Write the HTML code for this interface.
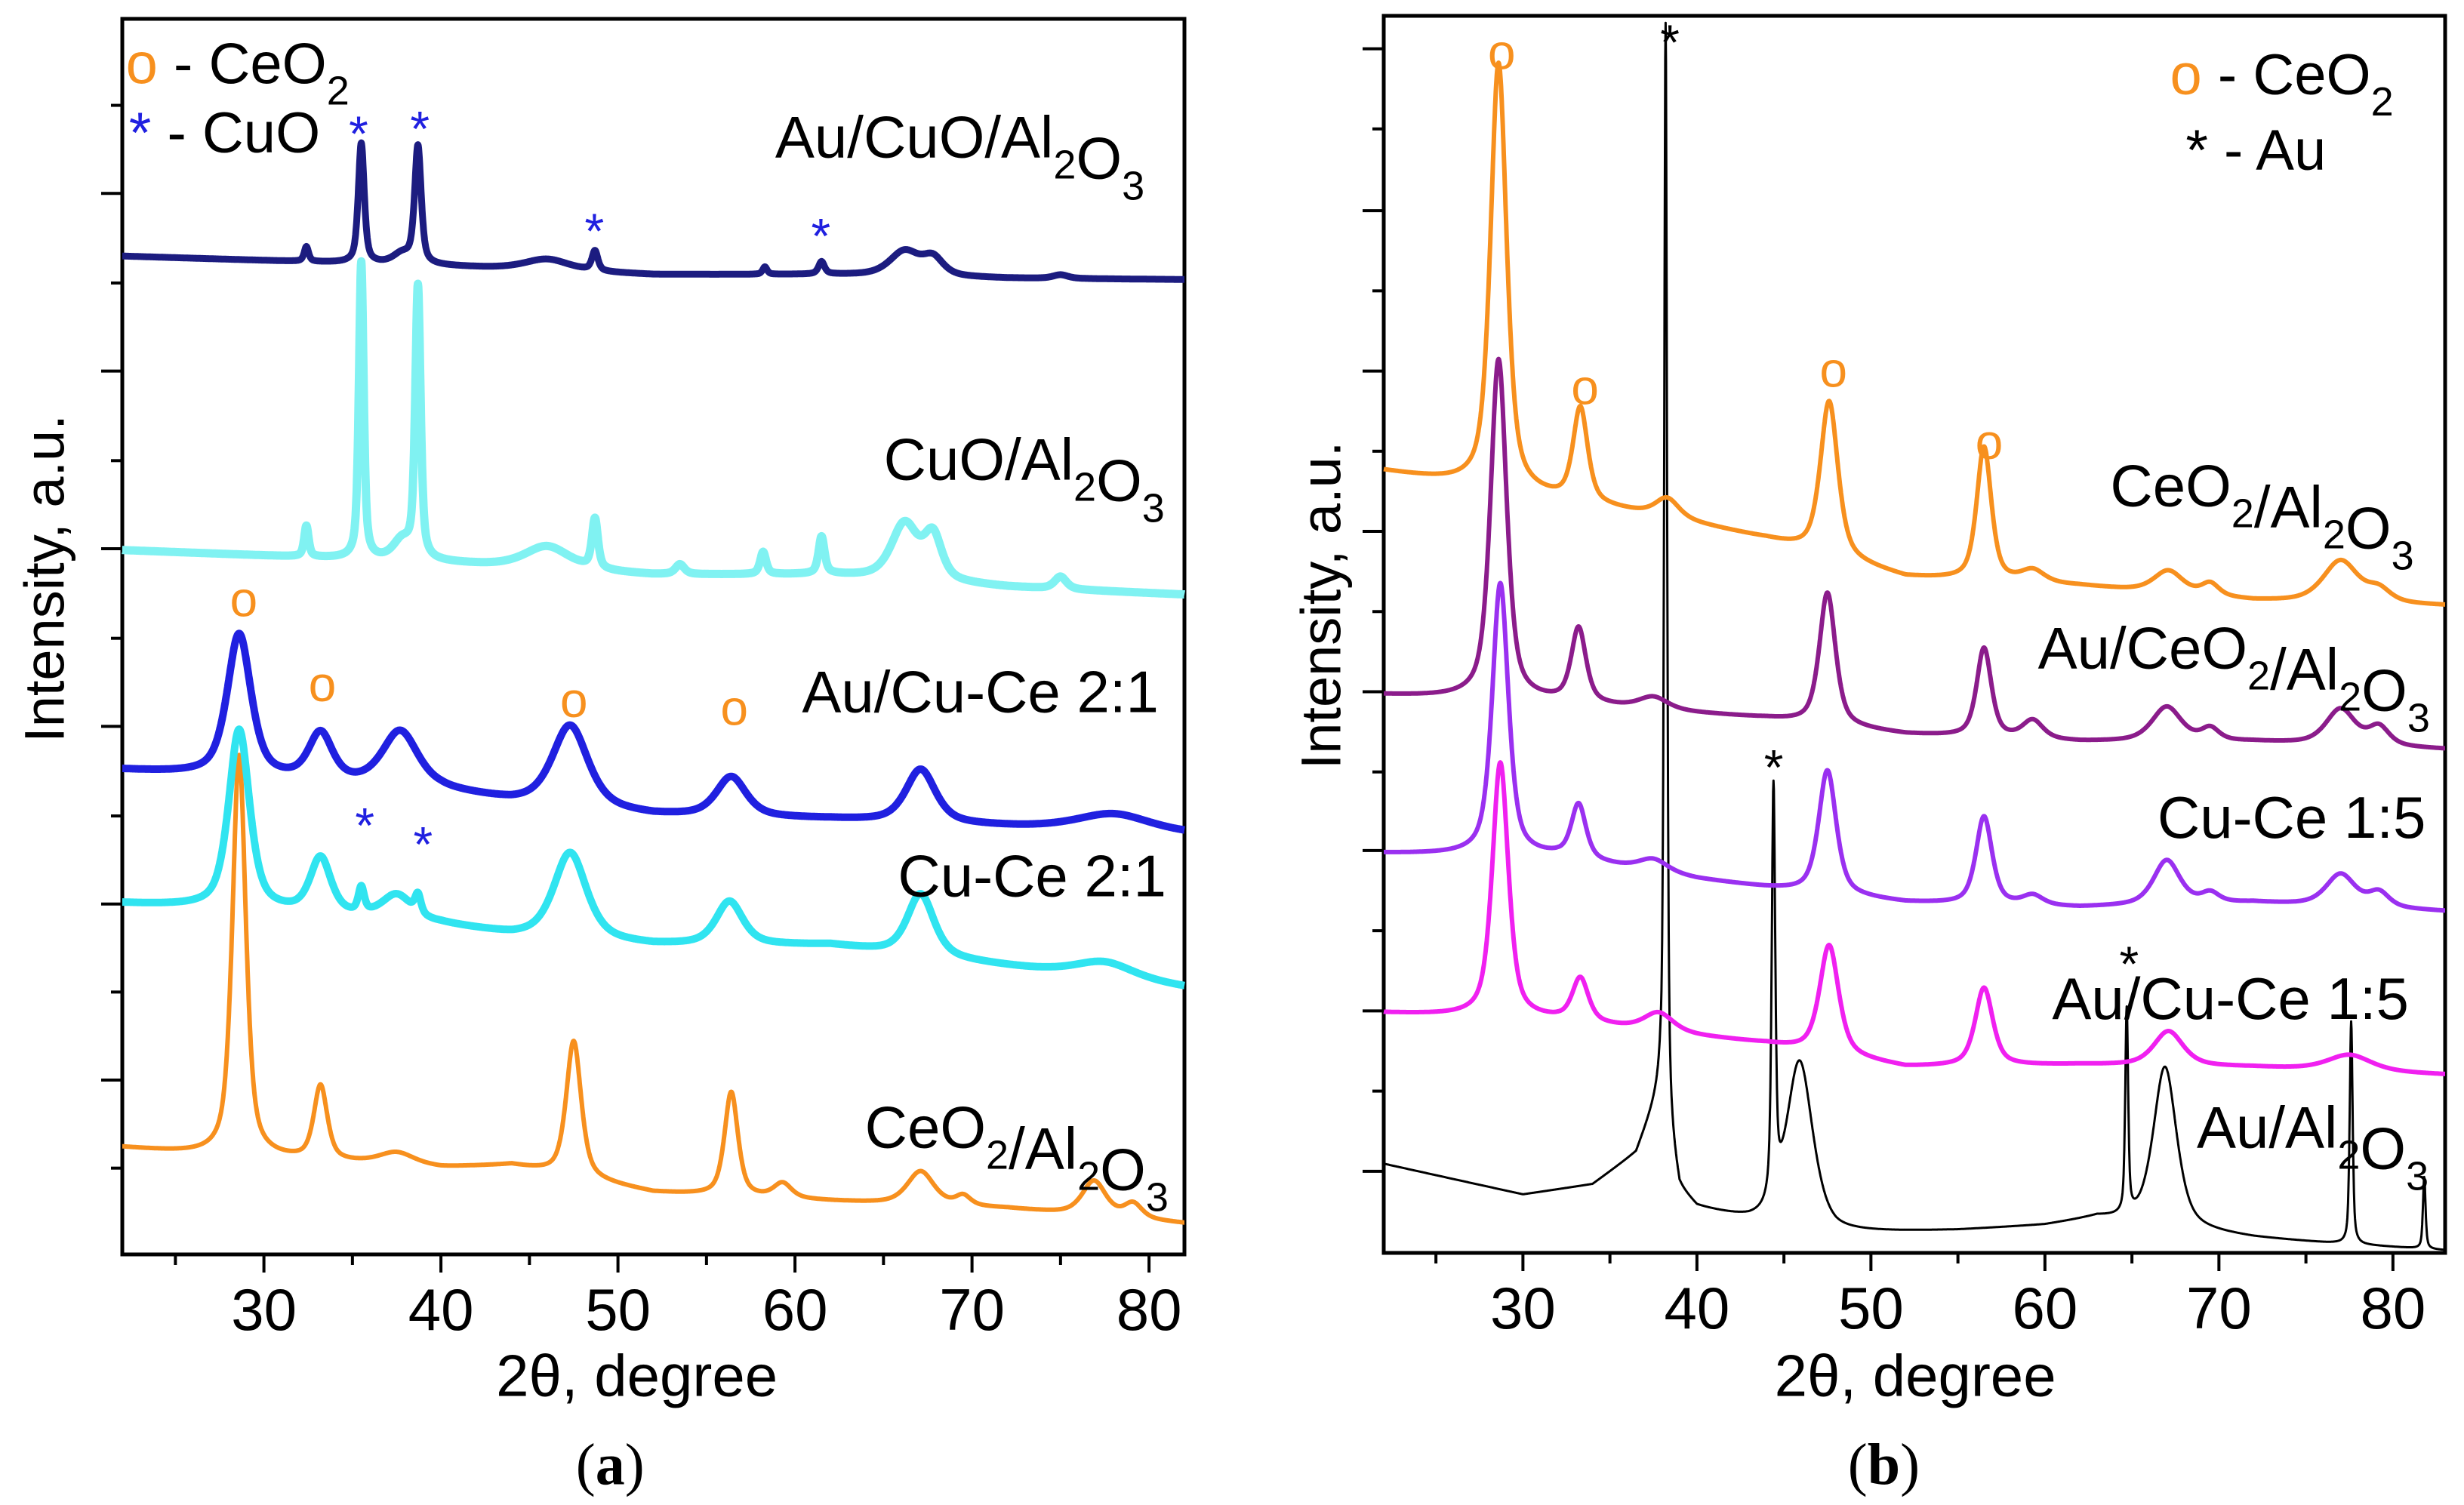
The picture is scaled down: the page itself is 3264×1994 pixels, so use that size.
<!DOCTYPE html>
<html><head><meta charset="utf-8"><style>
html,body{margin:0;padding:0;background:#fff}
svg{display:block}
text{font-family:"Liberation Sans",Arial,sans-serif}
</style></head><body>
<svg id="fig" width="3264" height="1994" viewBox="0 0 3264 1994" xmlns="http://www.w3.org/2000/svg"></svg>
<script>
// ---------- DATA ----------
const aNames = ["Au/CuO/Al2O3","CuO/Al2O3","Au/Cu-Ce 2:1","Cu-Ce 2:1","CeO2/Al2O3 (a)"];
const aBase_AuCuO = [[22,80.8],[40,80],[52,79.3],[62,79.3],[72,79],[82,78.9]];
const aPeaks_AuCuO = [[32.4,1.2,0.15],[35.5,9.7,0.2],[38.7,9.5,0.22],[37.8,0.8,0.6],[46,0.9,1.5],[48.7,1.6,0.2],[58.3,0.6,0.15],[61.5,1,0.2],[66.2,2,1],[67.8,1.4,0.7],[75,0.3,0.5]];
const aBase_CuO = [[22,57],[40,56],[52,55],[62,55],[72,54],[82,53.4]];
const aPeaks_CuO = [[32.4,2.5,0.15],[35.5,24,0.16],[38.7,22,0.18],[37.8,1.5,0.6],[46,1.8,1.5],[48.7,4,0.2],[53.5,0.8,0.3],[58.2,1.8,0.2],[61.5,3,0.2],[66.2,4.5,0.9],[67.8,3.5,0.6],[75,1,0.4]];
const aBase_AuCuCe = [[22,39.2],[30,38.5],[40,37.5],[44,36.6],[52,35.5],[62,35.2],[72,34.6],[82,34]];
const aPeaks_AuCuCe = [[28.6,11.5,0.8],[33.2,3.8,0.8],[37.7,4.5,1.2],[47.3,6.6,1.2],[56.4,3.2,1.0],[67.1,4.3,1.0],[78,1.4,2.5]];
const aBase_CuCe = [[22,28.4],[30,27.8],[40,26.7],[44,25.8],[52,25],[62,25],[72,23.3],[82,21.6]];
const aPeaks_CuCe = [[28.6,14.5,0.7],[33.2,4.5,0.7],[35.5,2,0.2],[37.5,2,1],[38.7,1.5,0.2],[47.3,7,1.1],[56.3,3.5,0.9],[67.1,5,0.9],[77.5,1.3,2]];
const aBase_Ce = [[22,8.65],[27,8],[40,7],[44,7.2],[52,5],[62,4.3],[72,3.7],[82,2.5]];
const aPeaks_Ce = [[28.6,32.5,0.45],[33.2,6,0.45],[37.5,1,1.2],[47.5,11,0.5],[56.4,8.4,0.45],[59.3,1.2,0.6],[67.1,2.7,0.9],[69.5,0.8,0.5],[76.9,2.8,0.8],[79.1,1.2,0.6]];

const bBase_Ce = [[22,63.2],[33,60.6],[38,59.5],[44,57.7],[52,54.6],[62,53.9],[72,52.7],[83,52.3]];
const bPeaks_Ce = [[28.6,34.5,0.55],[33.3,7.6,0.5],[38.3,1.5,0.8],[47.6,12.5,0.6],[56.5,10.8,0.5],[59.3,1,0.8],[67.1,1.8,1],[69.5,1,0.6],[77,3.4,1.2],[79.2,1,0.8]];
const bBase_AuCe = [[22,45.1],[32,44.5],[38,43.8],[44,43.2],[52,41.9],[62,41.3],[72,41.3],[83,40.7]];
const bPeaks_AuCe = [[28.6,27.5,0.55],[33.2,6,0.5],[37.5,1,1],[47.5,10.7,0.55],[56.5,7.2,0.5],[59.3,1.5,0.7],[67,2.8,1],[69.5,1,0.6],[77,2.9,1],[79.2,1.5,0.7]];
const bBase_CuCe = [[22,32.3],[32,32],[40,30.2],[44,29.5],[52,28.3],[62,27.9],[72,28.3],[83,27.6]];
const bPeaks_CuCe = [[28.7,22,0.55],[33.2,4.4,0.5],[37.5,1,1],[47.5,10,0.6],[56.5,7.1,0.55],[59.3,0.8,0.7],[67,3.6,0.9],[69.5,0.8,0.6],[77,2.6,1],[79.2,1.2,0.7]];
const bBase_AuCuCe = [[22,19.4],[32,18.8],[40,17.5],[44,16.9],[52,15],[62,15.2],[72,15],[83,14.4]];
const bPeaks_AuCuCe = [[28.7,20.6,0.55],[33.3,3.5,0.55],[37.8,1.5,1],[47.6,8.8,0.65],[56.5,6.3,0.6],[67.1,2.8,1],[77.5,1.3,1.5]];
const bBase_Au = [[22,7.2],[30,4.7],[34,5.5],[36.5,8],[37.9,13],[39,5],[40,3.6],[43,2.5],[48,1.5],[55,1.8],[60,2.2],[63,2.8],[68,1.8],[72,1.2],[76,0.8],[83,0.2]];
const bPeaks_Au = [[38.2,88.5,0.1],[44.4,33,0.12],[45.9,13.5,0.9],[64.7,16.5,0.1],[66.9,13,0.8],[77.6,18,0.1],[81.8,5.8,0.09]];

const xTicks = [30,40,50,60,70,80];

// ---------- RENDER ----------
const NS="http://www.w3.org/2000/svg";
const svg=document.getElementById('fig');
const S=2.083;
function el(tag,attrs,parent){const e=document.createElementNS(NS,tag);for(const k in attrs)e.setAttribute(k,attrs[k]);(parent||svg).appendChild(e);return e;}

function makeAxes(L,R,T,B,xmin,xmax){
  return {L,R,T,B,xmin,xmax,
    x:v=>L+(v-xmin)/(xmax-xmin)*(R-L),
    y:v=>B-v/100*(B-T)};
}
const A=makeAxes(162,1569,25,1662,22,82);
const Bx=makeAxes(1833,3239,21,1660,22,83);

function interp(base,x){
  if(x<=base[0][0])return base[0][1];
  for(let i=1;i<base.length;i++){if(x<=base[i][0]){const[a,b]=base[i-1],[c,d]=base[i];return b+(x-a)/(c-a)*(d-b);}}
  return base[base.length-1][1];
}
function curve(ax,base,peaks,color,w,name){
  let d="";
  for(let x=ax.xmin;x<=ax.xmax+1e-9;x+=0.02){
    let v=interp(base,x);
    for(const p of peaks){const t=(x-p[0])/p[2];v+=p[1]*(0.6/(1+t*t)+0.4*Math.exp(-0.693*t*t));}
    d+=(d?"L":"M")+ax.x(x).toFixed(1)+","+ax.y(v).toFixed(1);
  }
  const p=el('path',{d,fill:'none',stroke:color,'stroke-width':w,'stroke-linejoin':'round'});
  
  
}
function frame(ax,yMaj,yMin,name){
  const g=el('g',{});
  
  
  el('rect',{x:ax.L,y:ax.T,width:ax.R-ax.L,height:ax.B-ax.T,fill:'none',stroke:'#000','stroke-width':5},g);
  for(const y of yMaj) el('line',{x1:ax.L-28,x2:ax.L,y1:y,y2:y,stroke:'#000','stroke-width':4},g);
  for(const y of yMin) el('line',{x1:ax.L-15,x2:ax.L,y1:y,y2:y,stroke:'#000','stroke-width':4},g);
  for(let v=25;v<=ax.xmax;v+=5){const X=ax.x(v);const maj=(v%10===0);
    el('line',{x1:X,x2:X,y1:ax.B,y2:ax.B+(maj?24:14),stroke:'#000','stroke-width':4},g);}
  for(const t of xTicks){const tx=el('text',{x:ax.x(t),y:ax.B+100,'font-size':78,'text-anchor':'middle'},g);tx.textContent=t;
    
    }
}
function txt(x,y,html,size,color,name,extra){
  const t=el('text',Object.assign({x:x*S,y:y*S,'font-size':size,fill:color||'#000'},extra||{}));
  t.innerHTML=html;
  
  
  return t;
}
const sub=(c)=>`<tspan dy="28" font-size="54">${c}</tspan><tspan dy="-28"></tspan>`;

// panel a
const aMaj=[123,236,349,462,575,687].map(v=>v*S), aMin=[67,180,293,406,519,631,743].map(v=>v*S);
frame(A,aMaj,aMin,'panel-a-axes');
curve(A,aBase_Ce,aPeaks_Ce,'#f7901e',6,'series-a-ceo2-al2o3');
curve(A,aBase_CuCe,aPeaks_CuCe,'#30e4f0',10,'series-a-cu-ce-2-1');
curve(A,aBase_AuCuCe,aPeaks_AuCuCe,'#2020e0',10,'series-a-au-cu-ce-2-1');
curve(A,aBase_CuO,aPeaks_CuO,'#80f2f2',11,'series-a-cuo-al2o3');
curve(A,aBase_AuCuO,aPeaks_AuCuO,'#1c1c80',9,'series-a-au-cuo-al2o3');

// panel b
const bMaj=[31,134,236,338,440,541,643,745].map(v=>v*S), bMin=[82,185,287,389,491,592,694].map(v=>v*S);
frame(Bx,bMaj,bMin,'panel-b-axes');
curve(Bx,bBase_Au,bPeaks_Au,'#000',3,'series-b-au-al2o3');
curve(Bx,bBase_AuCuCe,bPeaks_AuCuCe,'#f020f0',6,'series-b-au-cu-ce-1-5');
curve(Bx,bBase_CuCe,bPeaks_CuCe,'#9a30f0',6,'series-b-cu-ce-1-5');
curve(Bx,bBase_AuCe,bPeaks_AuCe,'#8b1c8b',6,'series-b-au-ceo2-al2o3');
curve(Bx,bBase_Ce,bPeaks_Ce,'#f7901e',6,'series-b-ceo2-al2o3');

// axis titles
txt(28,368,'Intensity, a.u.',74,'#000','y-axis-title-a',{'text-anchor':'middle',transform:`rotate(-90 ${28*S} ${368*S})`,dy:26});
txt(840,385,'Intensity, a.u.',74,'#000','y-axis-title-b',{'text-anchor':'middle',transform:`rotate(-90 ${840*S} ${385*S})`,dy:26});
txt(405,888,'2θ, degree',78,'#000','x-axis-title-a',{'text-anchor':'middle'});
txt(1218,888,'2θ, degree',78,'#000','x-axis-title-b',{'text-anchor':'middle'});
let t=txt(388,944,'(<tspan font-weight="bold">a</tspan>)',78,'#000','panel-label-a',{'text-anchor':'middle'}); t.style.fontFamily='"Liberation Serif",serif';
t=txt(1198,944,'(<tspan font-weight="bold">b</tspan>)',78,'#000','panel-label-b',{'text-anchor':'middle'}); t.style.fontFamily='"Liberation Serif",serif';

// panel a legend and labels
txt(80,53,'<tspan fill="#f7901e">o</tspan> - CeO'+sub('2'),76,'#000','legend-ceo2-a');
txt(82,97,'<tspan fill="#2020e0">*</tspan> - CuO',76,'#000','legend-cuo-a');
txt(493,100,'Au/CuO/Al'+sub('2')+'O'+sub('3'),78,'#000','label-au-cuo-al2o3');
txt(562,305,'CuO/Al'+sub('2')+'O'+sub('3'),78,'#000','label-cuo-al2o3');
txt(510,453,'Au/Cu-Ce 2:1',78,'#000','label-au-cu-ce-2-1');
txt(571,570,'Cu-Ce 2:1',78,'#000','label-cu-ce-2-1');
txt(550,730,'CeO'+sub('2')+'/Al'+sub('2')+'O'+sub('3'),78,'#000','label-ceo2-al2o3-a');
for(const [x,y] of [[155,392],[205,446],[365,456],[467,461]]) txt(x,y,'o',66,'#f7901e','ceo2-marker',{'text-anchor':'middle'});
for(const [x,y] of [[228,96],[267,93],[378,158],[522,161],[232,536],[269,548]]) txt(x,y,'*',66,'#2020e0','cuo-marker',{'text-anchor':'middle'});

// panel b legend and labels
txt(1380,60,'<tspan fill="#f7901e">o</tspan> - CeO'+sub('2'),76,'#000','legend-ceo2-b');
txt(1390,108,'* - Au',76,'#000','legend-au-b');
txt(1342,322,'CeO'+sub('2')+'/Al'+sub('2')+'O'+sub('3'),78,'#000','label-ceo2-al2o3-b');
txt(1296,425,'Au/CeO'+sub('2')+'/Al'+sub('2')+'O'+sub('3'),78,'#000','label-au-ceo2-al2o3');
txt(1372,533,'Cu-Ce 1:5',78,'#000','label-cu-ce-1-5');
txt(1305,648,'Au/Cu-Ce 1:5',78,'#000','label-au-cu-ce-1-5');
txt(1397,730,'Au/Al'+sub('2')+'O'+sub('3'),78,'#000','label-au-al2o3');
for(const [x,y] of [[955,44],[1008,257],[1166,246],[1265,292]]) txt(x,y,'o',66,'#f7901e','ceo2-marker-b',{'text-anchor':'middle'});
for(const [x,y] of [[1062,38],[1128,499],[1354,624]]) txt(x,y,'*',66,'#000','au-marker',{'text-anchor':'middle'});
</script>
</body></html>
